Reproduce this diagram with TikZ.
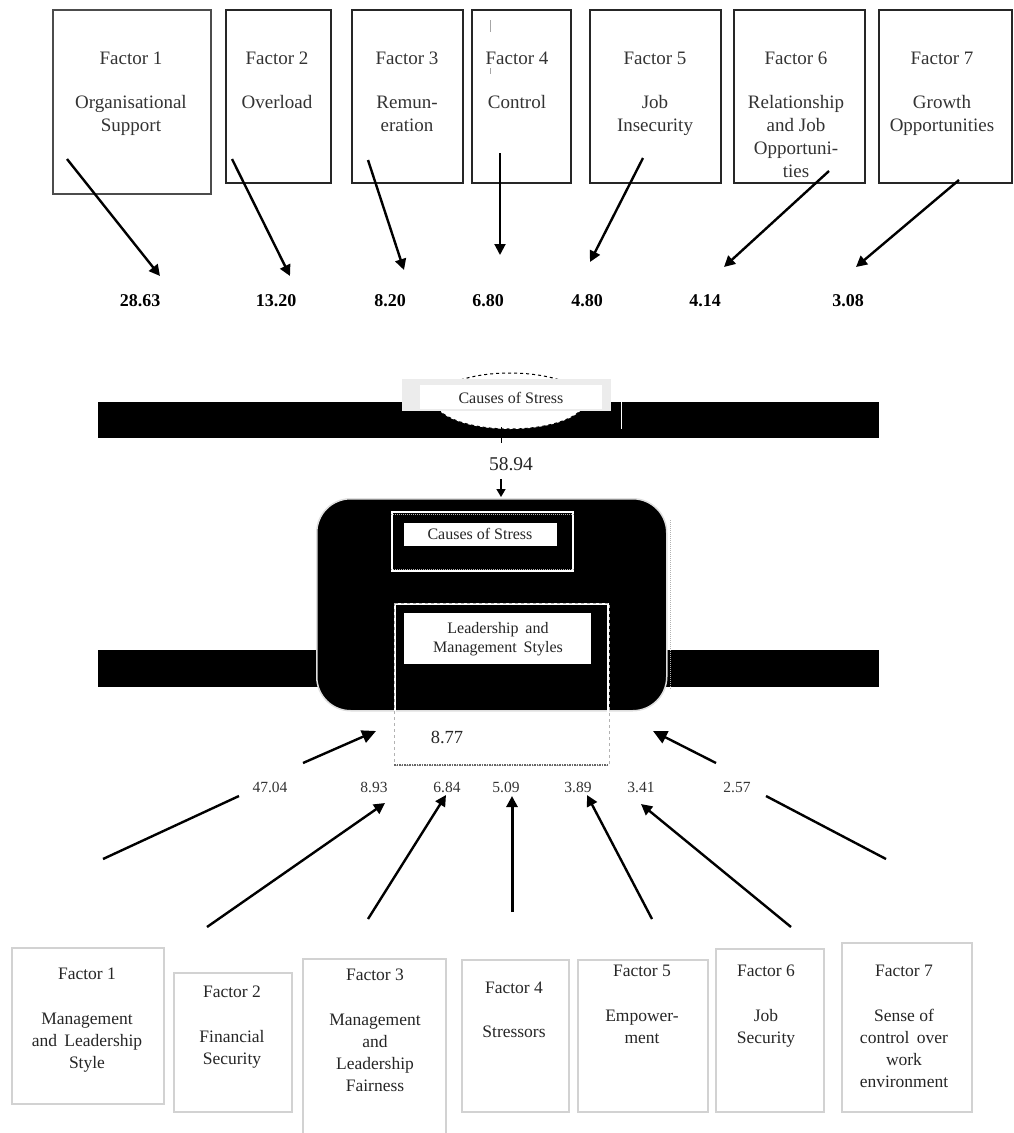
\documentclass[tikz,border=0pt]{standalone}
\usepackage{fontspec}
\setmainfont{Liberation Serif}
\usetikzlibrary{arrows.meta,shapes.geometric}
\begin{document}
\begin{tikzpicture}[x=1pt,y=-1pt,
  ttxt/.style={font=\fontsize{19}{23}\selectfont, align=center, anchor=north, inner sep=0, text=black!80},
  btxt/.style={font=\fontsize{17.5}{22}\selectfont, align=center, anchor=north, inner sep=0, text=black!85},
  tval/.style={font=\fontsize{18}{22}\selectfont\bfseries, inner sep=0},
  bval/.style={font=\fontsize{15.5}{19}\selectfont, inner sep=0, text=black!80},
  tbox/.style={draw=black!85, line width=2pt, inner sep=0, anchor=north west},
  bbox/.style={draw=gray!35, line width=2pt, inner sep=0, anchor=north west},
  arr/.style={line width=2.4pt, -{Triangle[length=11pt,width=11pt]}},
  ln/.style={line width=2.4pt},
  blk/.style={fill=black, inner sep=0, anchor=north west},
  lbl/.style={fill=white, inner sep=0, anchor=north west},
]
\useasboundingbox (0,0) rectangle (1013,1133);

% ---------------- top factor boxes ----------------
\node[tbox, draw=black!70, minimum width=158, minimum height=184] (f1) at (52,9) {};
\node[tbox, minimum width=105, minimum height=173] (f2) at (225,9) {};
\node[tbox, minimum width=111, minimum height=173] (f3) at (351,9) {};
\node[tbox, minimum width=99,  minimum height=173] (f4) at (471,9) {};
\node[tbox, minimum width=131, minimum height=173] (f5) at (589,9) {};
\node[tbox, minimum width=131, minimum height=173] (f6) at (733,9) {};
\node[tbox, minimum width=133, minimum height=173] (f7) at (878,9) {};

\node[ttxt] (f1t) at (131,51.4) {Factor 1\\[21pt]Organisational\\Support};
\node[ttxt] (f2t) at (277,51.4) {Factor 2\\[21pt]Overload};
\node[ttxt] (f3t) at (407,51.4) {Factor 3\\[21pt]Remun-\\eration};
\node[ttxt] (f4t) at (517,51.4) {Factor 4\\[21pt]Control};
\node[ttxt] (f5t) at (655,51.4) {Factor 5\\[21pt]Job\\Insecurity};
\node[ttxt] (f6t) at (796,51.4) {Factor 6\\[21pt]Relationship\\and Job\\Opportuni-\\ties};
\node[ttxt] (f7t) at (942,51.4) {Factor 7\\[21pt]Growth\\Opportunities};

\draw[gray!70, line width=1pt] (490,20) -- (490,32);
\draw[gray!70, line width=1pt] (490,68) -- (490,74);

% top values
\node[tval] (v1) at (140,301) {28.63};
\node[tval] (v2) at (276,301) {13.20};
\node[tval] (v3) at (390,301) {8.20};
\node[tval] (v4) at (488,301) {6.80};
\node[tval] (v5) at (587,301) {4.80};
\node[tval] (v6) at (705,301) {4.14};
\node[tval] (v7) at (848,301) {3.08};

% top arrows
\coordinate (t1s) at (67,159);  \coordinate (t1e) at (160,276);
\coordinate (t2s) at (232,159); \coordinate (t2e) at (290,276);
\coordinate (t3s) at (368,160); \coordinate (t3e) at (404,270);
\coordinate (t4s) at (500,153); \coordinate (t4e) at (500,255);
\coordinate (t5s) at (643,158); \coordinate (t5e) at (590,262);
\coordinate (t6s) at (829,171); \coordinate (t6e) at (724,267);
\coordinate (t7s) at (959,180); \coordinate (t7e) at (856,267);
\draw[arr] (t1s) -- (t1e);
\draw[arr] (t2s) -- (t2e);
\draw[arr] (t3s) -- (t3e);
\draw[arr, line width=2pt] (t4s) -- (t4e);
\draw[arr] (t5s) -- (t5e);
\draw[arr] (t6s) -- (t6e);
\draw[arr] (t7s) -- (t7e);

% ---------------- middle construct ----------------
\node[blk, minimum width=781, minimum height=36] (bar1) at (98,402) {};
\draw[white, line width=1pt] (621,402) -- (621,429);
\node[ellipse, fill=white, draw=black, dashed, line width=1pt, minimum width=150, minimum height=56] (ell) at (510,401) {};
\node[fill=gray!15, inner sep=0, anchor=north west, minimum width=209, minimum height=32] (cosbg) at (402,379) {};
\node[lbl, minimum width=182, minimum height=24] (coslbl) at (420,385) {};
\node[font=\fontsize{16}{19}\selectfont, inner sep=0, text=black!85] (cos) at (511,398) {Causes of Stress};

\coordinate (tk1) at (501,427); \coordinate (tk2) at (501,443);
\draw[line width=1pt] (tk1) -- (tk2);
\node[font=\fontsize{19.5}{22}\selectfont, inner sep=0, text=black!85] (v0) at (511,464) {58.94};

\node[blk, minimum width=781, minimum height=37] (bar2) at (98,650) {};
\node[blk, draw=gray!25, line width=1.5pt, rounded corners=34pt, minimum width=350, minimum height=212] (core) at (316,498) {};
\draw[gray!60, densely dotted, line width=1pt] ([xshift=3pt,yshift=-22pt]core.north east) -- ([xshift=3pt,yshift=22pt]core.south east);

\coordinate (a0s) at (501,479); \coordinate (a0e) at (501,497);
\draw[line width=1.6pt, -{Triangle[length=8pt,width=9pt]}] (a0s) -- (a0e);

\node[inner sep=0, anchor=north west, draw=white, line width=2pt, minimum width=181, minimum height=59] (ib1) at (391,511) {};
\draw[gray!60, densely dotted, line width=1pt] ([yshift=-3pt]ib1.north west) -- ([yshift=-3pt]ib1.north east);
\draw[gray!60, densely dotted, line width=1pt] ([yshift=3pt]ib1.south west) -- ([yshift=3pt]ib1.south east);
\node[lbl, minimum width=153, minimum height=23] (ib1l) at (404,523) {};
\node[font=\fontsize{16}{19}\selectfont, inner sep=0, text=black!85] (cos2) at (480,534) {Causes of Stress};

\node[inner sep=0, anchor=north west, draw=white, line width=2pt, minimum width=213, minimum height=160] (ib2) at (394,603) {};
\draw[gray!60, dashed, line width=1pt] (ib2.north west) rectangle (ib2.south east);
\draw[black!60, densely dotted, line width=1.5pt] (ib2.south west) -- (ib2.south east);
\node[lbl, minimum width=187, minimum height=51] (ib2l) at (404,613) {};
\node[font=\fontsize{16}{19}\selectfont, inner sep=0, align=center, text=black!85] (lms) at (498,639) {Leadership\hspace{3pt} and\\Management\hspace{3pt} Styles};
\node[font=\fontsize{18.5}{22}\selectfont, inner sep=0, text=black!85] (v877) at (447,737) {8.77};

\coordinate (las) at (303,763); \coordinate (lae) at (376,731);
\coordinate (ras) at (716,763); \coordinate (rae) at (653,731);
\draw[arr, -{Triangle[length=14pt,width=13pt]}] (las) -- (lae);
\draw[arr, -{Triangle[length=14pt,width=13pt]}] (ras) -- (rae);

% bottom values
\node[bval] (w1) at (270,787) {47.04};
\node[bval] (w2) at (374,787) {8.93};
\node[bval] (w3) at (447,787) {6.84};
\node[bval] (w4) at (506,787) {5.09};
\node[bval] (w5) at (578,787) {3.89};
\node[bval] (w6) at (641,787) {3.41};
\node[bval] (w7) at (737,787) {2.57};

% lower arrows
\coordinate (l1s) at (103,859); \coordinate (l1e) at (239,796);
\coordinate (l2s) at (207,927); \coordinate (l2e) at (385,803);
\coordinate (l3s) at (368,919); \coordinate (l3e) at (446,795);
\coordinate (l4s) at (512,912); \coordinate (l4e) at (512,796);
\coordinate (l5s) at (652,919); \coordinate (l5e) at (587,795);
\coordinate (l6s) at (791,927); \coordinate (l6e) at (641,804);
\coordinate (l7s) at (886,859); \coordinate (l7e) at (766,796);
\draw[ln] (l1s) -- (l1e);
\draw[arr] (l2s) -- (l2e);
\draw[arr] (l3s) -- (l3e);
\draw[arr, line width=3pt] (l4s) -- (l4e);
\draw[arr] (l5s) -- (l5e);
\draw[arr] (l6s) -- (l6e);
\draw[ln] (l7s) -- (l7e);

% ---------------- bottom factor boxes ----------------
\node[bbox, minimum width=152, minimum height=156] (b1) at (11,947) {};
\node[bbox, minimum width=118, minimum height=139] (b2) at (173,972) {};
\node[inner sep=0, anchor=north west, minimum width=143, minimum height=174] (b3) at (303,959) {};
\draw[gray!35, line width=2pt] (b3.south west) -- (b3.north west) -- (b3.north east) -- (b3.south east);
\node[bbox, minimum width=107, minimum height=152] (b4) at (461,959) {};
\node[bbox, minimum width=130, minimum height=152] (b5) at (577,959) {};
\node[bbox, minimum width=108, minimum height=163] (b6) at (715,948) {};
\node[bbox, minimum width=130, minimum height=169] (b7) at (841,942) {};

\node[btxt] (b1t) at (87,968) {Factor 1\\[23pt]Management\\and\hspace{3pt} Leadership\\Style};
\node[btxt] (b2t) at (232,986) {Factor 2\\[23pt]Financial\\Security};
\node[btxt] (b3t) at (375,969) {Factor 3\\[23pt]Management\\and\\Leadership\\Fairness};
\node[btxt] (b4t) at (514,982) {Factor 4\\[22pt]Stressors};
\node[btxt] (b5t) at (642,965) {Factor 5\\[23pt]Empower-\\ment};
\node[btxt] (b6t) at (766,965) {Factor 6\\[23pt]Job\\Security};
\node[btxt] (b7t) at (904,965) {Factor 7\\[23pt]Sense of\\control\hspace{3pt} over\\work\\environment};
\end{tikzpicture}
\end{document}
